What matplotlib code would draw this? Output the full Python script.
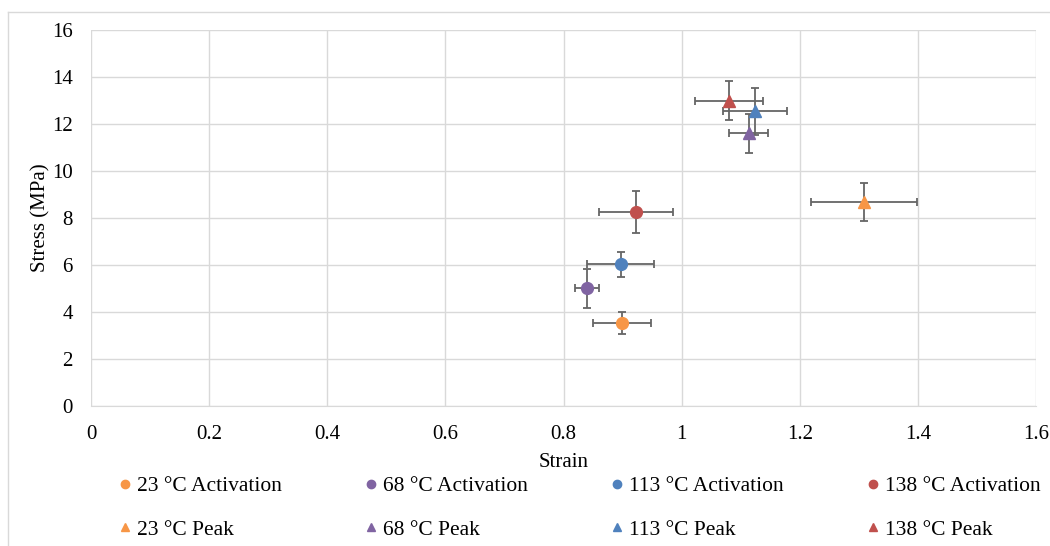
import matplotlib.pyplot as plt
from matplotlib.lines import Line2D

plt.rcParams['font.family'] = ['Liberation Serif', 'DejaVu Serif']

# Data
temps = ['23', '68', '113', '138']
colors = ['#F79646', '#8064A2', '#4F81BD', '#C0504D']

act_strain = [0.899, 0.840, 0.897, 0.923]
act_stress = [3.53, 5.02, 6.04, 8.26]
act_strain_err = [0.049, 0.020, 0.057, 0.063]
act_stress_err = [0.45, 0.83, 0.53, 0.90]

peak_strain = [1.309, 1.114, 1.124, 1.080]
peak_stress = [8.68, 11.60, 12.55, 13.00]
peak_strain_err = [0.090, 0.033, 0.054, 0.058]
peak_stress_err = [0.80, 0.83, 1.00, 0.83]

W, H = 1050, 546
fig = plt.figure(figsize=(W / 100, H / 100), dpi=100)
ax = fig.add_axes([91 / W, 1 - 406 / H, (1036 - 91) / W, (406 - 30) / H])

handles = []
for i, t in enumerate(temps):
    ax.errorbar(act_strain[i], act_stress[i], xerr=act_strain_err[i], yerr=act_stress_err[i],
                fmt='o', color=colors[i], ms=8.5, ecolor='#666666', elinewidth=1.3,
                capsize=3, capthick=1.3, zorder=3)
    ax.errorbar(peak_strain[i], peak_stress[i], xerr=peak_strain_err[i], yerr=peak_stress_err[i],
                fmt='^', color=colors[i], ms=8.5, ecolor='#666666', elinewidth=1.3,
                capsize=3, capthick=1.3, zorder=3)
    handles.append(Line2D([], [], marker='o', ls='', color=colors[i], ms=6,
                          label=t + ' °C Activation'))
    handles.append(Line2D([], [], marker='^', ls='', color=colors[i], ms=6,
                          label=t + ' °C Peak'))

ax.set_xlim(0, 1.6)
ax.set_ylim(0, 16)
ax.set_xticks([0, 0.2, 0.4, 0.6, 0.8, 1.0, 1.2, 1.4, 1.6])
ax.set_xticklabels(['0', '0.2', '0.4', '0.6', '0.8', '1', '1.2', '1.4', '1.6'])
ax.set_yticks(range(0, 17, 2))
ax.tick_params(labelsize=15, length=0)
ax.tick_params(axis='x', pad=14)
ax.tick_params(axis='y', pad=13)
ax.grid(True, color='#D9D9D9', lw=1)
ax.set_axisbelow(True)
for s in ['top', 'right', 'left']:
    ax.spines[s].set_visible(False)
ax.spines['bottom'].set_color('#D9D9D9')

ax.set_xlabel('Strain', fontsize=15, labelpad=6)
ax.set_ylabel('Stress (MPa)', fontsize=15, labelpad=1)

fig.legend(handles=handles, loc='upper left', bbox_to_anchor=(113 / W, 1 - 476 / H), ncol=4,
           frameon=False, fontsize=15.5, handletextpad=0.0, columnspacing=3.6,
           labelspacing=1.1, handlelength=1.1, borderpad=0, borderaxespad=0)

# outer chart border (top and left visible)
fig.add_artist(Line2D([8 / W, 1], [1 - 12 / H, 1 - 12 / H], transform=fig.transFigure,
                      color='#D9D9D9', lw=1))
fig.add_artist(Line2D([8 / W, 8 / W], [0, 1 - 12 / H], transform=fig.transFigure,
                      color='#D9D9D9', lw=1))

fig.savefig('out.png', dpi=100)
